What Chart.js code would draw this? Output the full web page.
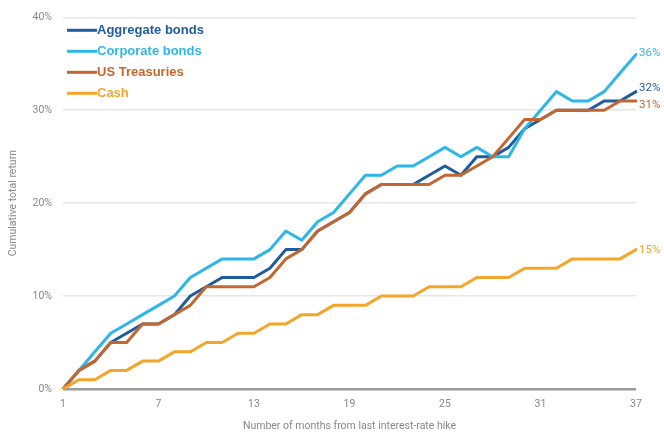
<!DOCTYPE html>
<html>
<head>
<meta charset="utf-8">
<script src="https://cdn.jsdelivr.net/npm/chart.js@4"></script>
<style>
  html, body { margin: 0; padding: 0; background: #fff; }
  #wrap { width: 664px; height: 434px; position: relative; }
</style>
</head>
<body>
<div id="wrap"><canvas id="chart" width="664" height="434"></canvas></div>
<script>
// months since the last hike, 1..37
const months = [];
for (let m = 1; m <= 37; m++) months.push(String(m));

const seriesNames = ['Aggregate bonds', 'Corporate bonds', 'US Treasuries', 'Cash'];
const seriesColors = ['#1f5c9b', '#2db7e8', '#c4662f', '#f5a52a'];

const aggregate = [0,2,3,5,6,7,7,8,10,11, 12,12,12,13,15,15,17,18,19,21, 22,22,22,23,24,23,25,25,26,28, 29,30,30,30,31,31,32];
const corporate = [0,2,4,6,7,8,9,10,12,13, 14,14,14,15,17,16,18,19,21,23, 23,24,24,25,26,25,26,25,25,28, 30,32,31,31,32,34,36];
const treasuries = [0,2,3,5,5,7,7,8,9,11, 11,11,11,12,14,15,17,18,19,21, 22,22,22,22,23,23,24,25,27,29, 29,30,30,30,30,31,31];
const cash = [0,1,1,2,2,3,3,4,4,5, 5,6,6,7,7,8,8,9,9,9, 10,10,10,11,11,11,12,12,12,13, 13,13,14,14,14,14,15];

const shownTicks = ['1', '7', '13', '19', '25', '31', '37'];
const endNudge = [-4, -1, 4, 1]; // keep 32% and 31% apart

const axisFont = { family: 'Roboto, "Liberation Sans", sans-serif', size: 10.5 };

// legend in the top-left corner and value tags at the right end
const annotate = {
  id: 'annotate',
  afterDatasetsDraw(chart) {
    const ctx = chart.ctx;
    const area = chart.chartArea;
    const yScale = chart.scales.y;
    ctx.save();
    chart.data.datasets.forEach((ds, i) => {
      const y = area.top + 13 + i * 21;
      ctx.strokeStyle = ds.borderColor;
      ctx.lineWidth = 3;
      ctx.beginPath();
      ctx.moveTo(area.left + 4, y);
      ctx.lineTo(area.left + 34, y);
      ctx.stroke();
      ctx.fillStyle = ds.borderColor;
      ctx.font = 'bold 13px "Liberation Sans", Arial, sans-serif';
      ctx.textBaseline = 'middle';
      ctx.textAlign = 'left';
      ctx.fillText(ds.label, area.left + 34, y);

      const last = ds.data[ds.data.length - 1];
      ctx.font = '11.5px Roboto, "Liberation Sans", sans-serif';
      ctx.fillText(last + '%', area.right + 3, yScale.getPixelForValue(last) + endNudge[i]);
    });
    ctx.restore();
  }
};

const ctx = document.getElementById('chart').getContext('2d');
new Chart(ctx, {
  type: 'line',
  data: {
    labels: months,
    datasets: [
      { label: seriesNames[0], data: aggregate, borderColor: seriesColors[0], order: 3 },
      { label: seriesNames[1], data: corporate, borderColor: seriesColors[1], order: 2 },
      { label: seriesNames[2], data: treasuries, borderColor: seriesColors[2], order: 1 },
      { label: seriesNames[3], data: cash, borderColor: seriesColors[3], order: 0 }
    ]
  },
  options: {
    responsive: false,
    animation: false,
    layout: { padding: { top: 16, right: 28, left: 0, bottom: 0 } },
    elements: {
      line: { borderWidth: 3, tension: 0, fill: false, borderJoinStyle: 'round', borderCapStyle: 'round' },
      point: { radius: 0 }
    },
    plugins: {
      legend: { display: false },
      tooltip: { enabled: false }
    },
    scales: {
      x: {
        offset: false,
        grid: { display: false, drawTicks: false },
        border: { display: false },
        ticks: {
          autoSkip: false,
          maxRotation: 0,
          padding: 9,
          color: '#888',
          font: axisFont,
          callback(value) {
            const lab = this.getLabelForValue(value);
            return shownTicks.includes(lab) ? lab : '';
          }
        },
        title: {
          display: true,
          text: 'Number of months from last interest-rate hike',
          color: '#888',
          font: axisFont,
          padding: { top: 0, bottom: 1 }
        },
        afterFit(scale) { scale.height = 45; }
      },
      y: {
        min: 0,
        max: 40,
        grid: {
          drawTicks: false,
          color: c => c.tick.value === 0 ? '#9a9a9a' : '#e6e6e6',
          lineWidth: c => c.tick.value === 0 ? 2.5 : 1.5
        },
        border: { display: false },
        ticks: {
          stepSize: 10,
          padding: 11,
          color: '#888',
          font: axisFont,
          callback: v => v + '%'
        },
        title: {
          display: true,
          text: 'Cumulative total return',
          color: '#888',
          font: axisFont,
          padding: { top: 7, bottom: 0 }
        },
        afterFit(scale) { scale.width = 63; }
      }
    }
  },
  plugins: [annotate]
});
</script>
</body>
</html>
